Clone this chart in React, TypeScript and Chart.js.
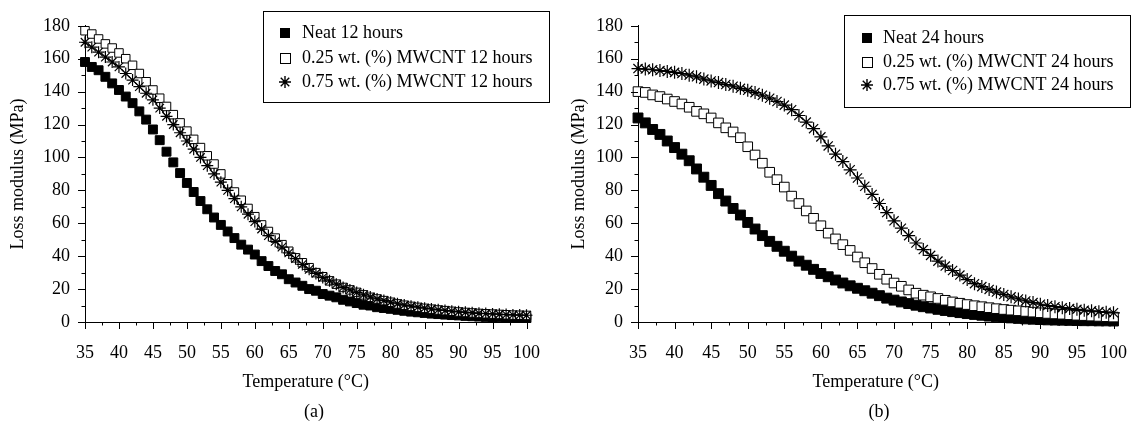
import React, { useEffect, useRef } from 'react';
import { Chart, registerables } from 'chart.js';

Chart.register(...registerables);

const FONT_FAMILY = "'Liberation Serif', 'Times New Roman', serif";

// ---------- data ----------
const TEMPS = [
  35, 36, 37, 38, 39, 40, 41, 42, 43, 44,
  45, 46, 47, 48, 49, 50, 51, 52, 53, 54,
  55, 56, 57, 58, 59, 60, 61, 62, 63, 64,
  65, 66, 67, 68, 69, 70, 71, 72, 73, 74,
  75, 76, 77, 78, 79, 80, 81, 82, 83, 84,
  85, 86, 87, 88, 89, 90, 91, 92, 93, 94,
  95, 96, 97, 98, 99, 100,
];

const NEAT_12 = [
  158, 155, 153, 149, 145, 141, 137, 133, 128, 123,
  117, 110.5, 103.5, 97, 90.5, 84.5, 79, 73.5, 68.5, 63.5,
  59, 55, 51, 47, 44, 41, 37, 34, 31, 29,
  26, 24, 22, 20, 19, 17, 16, 15, 13.5, 12.5,
  11.5, 10.5, 10, 9, 8.5, 8, 7.4, 6.8, 6.3, 5.9,
  5.5, 5.1, 4.8, 4.5, 4.2, 4.0, 3.7, 3.5, 3.3, 3.1,
  3.0, 2.8, 2.7, 2.6, 2.5, 2.4,
];

const MW025_12 = [
  177, 175, 172, 169, 166.5, 163.5, 160, 156, 151, 146,
  141, 136, 131, 126, 121, 116, 111, 106, 101, 96,
  90, 84, 79, 74, 69, 64, 59, 55, 51, 47,
  43, 39, 36, 33, 30, 27.5, 25, 23, 21, 19.5,
  18, 16.5, 15, 14, 13, 12, 11, 10.2, 9.5, 8.9,
  8.3, 7.8, 7.3, 6.9, 6.5, 6.1, 5.8, 5.5, 5.2, 5.0,
  4.8, 4.6, 4.4, 4.2, 4.1, 4.0,
];

const MW075_12 = [
  170, 167, 164, 161, 158, 155, 151, 147, 143, 139,
  135, 130, 125, 120, 115, 110, 105, 100, 95, 90,
  85, 80, 75, 70, 65.5, 61, 56.5, 52.5, 49, 45.5,
  42, 38.5, 35, 32, 29.5, 27, 25, 23, 21, 19.5,
  18, 16.5, 15.2, 14, 13, 12, 11.1, 10.3, 9.6, 9.0,
  8.4, 7.9, 7.4, 7.0, 6.6, 6.2, 5.9, 5.6, 5.3, 5.1,
  4.9, 4.7, 4.5, 4.3, 4.2, 4.1,
];

const NEAT_24 = [
  124, 121, 117, 114, 110, 106, 102, 98, 93, 88,
  83, 78, 73.5, 69, 65, 60.5, 56.5, 52.5, 49, 46,
  43, 40, 37, 34.5, 32, 29.5, 27.5, 25.5, 23.7, 22,
  20.5, 19, 17.5, 16, 14.5, 13.3, 12.2, 11.2, 10.2, 9.3,
  8.5, 7.7, 7.0, 6.3, 5.7, 5.1, 4.6, 4.1, 3.6, 3.2,
  2.8, 2.5, 2.2, 1.9, 1.7, 1.5, 1.3, 1.2, 1.1, 1.0,
  0.9, 0.8, 0.8, 0.7, 0.7, 0.6,
];

const MW025_24 = [
  140, 139.5, 138, 137, 135.5, 134, 132.5, 130.5, 128, 126.5,
  124, 121, 118, 115.5, 112, 106.5, 101.5, 96.5, 91, 86.5,
  82, 76.5, 72, 67.5, 63, 58.5, 54, 50.5, 47, 43.5,
  39.5, 36, 32.5, 29, 26, 23.7, 21.7, 19.5, 17.5, 16.3,
  15.3, 14.3, 13.2, 12.2, 11.4, 10.6, 9.9, 9.3, 8.7, 8.1,
  7.6, 7.2, 6.8, 6.4, 6.0, 5.6, 5.2, 4.9, 4.7, 4.4,
  4.1, 3.9, 3.6, 3.4, 3.2, 3.0,
];

const MW075_24 = [
  154, 153.7, 153.3, 152.8, 152.3, 151.7, 151, 150, 149, 147.6,
  146.5, 145.5, 144.3, 143.3, 142, 140.8, 139.4, 137.8, 136, 134,
  131.8, 129, 125.5, 121.5, 117.5, 112.5, 107, 102, 97.5, 92.5,
  87.5, 82.5, 77.5, 72, 66.5, 61.5, 57, 52.5, 48, 44,
  40.5, 37, 34, 31.3, 28.5, 25.8, 23.3, 21.5, 19.8, 18.2,
  16.7, 15.3, 14, 12.8, 11.8, 10.8, 10, 9.3, 8.7, 8.2,
  7.7, 7.2, 6.8, 6.3, 5.9, 5.6,
];

const X_TICKS = [35, 40, 45, 50, 55, 60, 65, 70, 75, 80, 85, 90, 95, 100];
const Y_TICKS = [0, 20, 40, 60, 80, 100, 120, 140, 160, 180];

const LABELS_12 = ['Neat 12 hours', '0.25 wt. (%) MWCNT 12 hours', '0.75 wt. (%) MWCNT 12 hours'];
const LABELS_24 = ['Neat 24 hours', '0.25 wt. (%) MWCNT 24 hours', '0.75 wt. (%) MWCNT 24 hours'];

type MarkStyle = 'filled' | 'open' | 'star';
const STYLES: MarkStyle[] = ['filled', 'open', 'star'];

// ---------- plugins ----------
function makeTickPlugin() {
  return {
    id: 'manualTicks',
    afterDraw(chart: any) {
      const { ctx } = chart;
      const xs = chart.scales.x;
      const ys = chart.scales.y;
      ctx.save();
      ctx.strokeStyle = '#000';
      ctx.lineWidth = 1;
      ctx.beginPath();
      const xVals: number[] = [];
      X_TICKS.forEach((v, i) => {
        xVals.push(v);
        if (i < X_TICKS.length - 1) xVals.push((v + X_TICKS[i + 1]) / 2);
      });
      xVals.forEach((v) => {
        const major = X_TICKS.includes(v);
        const px = Math.round(xs.getPixelForValue(v)) + 0.5;
        const len = major ? 7 : 3.5;
        ctx.moveTo(px, xs.top);
        ctx.lineTo(px, xs.top + len);
      });
      const yVals: number[] = [];
      Y_TICKS.forEach((v, i) => {
        yVals.push(v);
        if (i < Y_TICKS.length - 1) yVals.push((v + Y_TICKS[i + 1]) / 2);
      });
      yVals.forEach((v) => {
        const major = Y_TICKS.includes(v);
        const py = Math.round(ys.getPixelForValue(v)) + 0.5;
        const len = major ? 7 : 3.5;
        ctx.moveTo(ys.right - len, py);
        ctx.lineTo(ys.right, py);
      });
      ctx.stroke();
      ctx.restore();
    },
  };
}

interface LegendCfg {
  x: number; y: number; w: number; h: number;
  markerX: number; textX: number; rows: number[];
  labels: string[];
}

function makeLegendPlugin(cfg: LegendCfg) {
  return {
    id: 'boxLegend',
    afterDraw(chart: any) {
      const { ctx } = chart;
      ctx.save();
      ctx.fillStyle = '#fff';
      ctx.fillRect(cfg.x, cfg.y, cfg.w, cfg.h);
      ctx.strokeStyle = '#000';
      ctx.lineWidth = 1;
      ctx.strokeRect(cfg.x + 0.5, cfg.y + 0.5, cfg.w, cfg.h);
      ctx.font = `18px ${FONT_FAMILY}`;
      ctx.textBaseline = 'middle';
      ctx.textAlign = 'left';
      cfg.labels.forEach((label, i) => {
        const cy = cfg.rows[i];
        const cx = cfg.markerX;
        const s = 10;
        const st = STYLES[i];
        ctx.fillStyle = '#000';
        if (st === 'filled') {
          ctx.fillRect(cx - s / 2, cy - s / 2, s, s);
        } else if (st === 'open') {
          ctx.strokeRect(Math.round(cx - s / 2) + 0.5, Math.round(cy - s / 2) + 0.5, s, s);
        } else {
          const r = 6;
          ctx.beginPath();
          ctx.moveTo(cx, cy - r); ctx.lineTo(cx, cy + r);
          ctx.moveTo(cx - r, cy); ctx.lineTo(cx + r, cy);
          const d = r * Math.SQRT1_2;
          ctx.moveTo(cx - d, cy - d); ctx.lineTo(cx + d, cy + d);
          ctx.moveTo(cx - d, cy + d); ctx.lineTo(cx + d, cy - d);
          ctx.lineWidth = 1.4;
          ctx.stroke();
          ctx.lineWidth = 1;
        }
        ctx.fillStyle = '#000';
        ctx.fillText(label, cfg.textX, cy);
      });
      ctx.restore();
    },
  };
}

// ---------- chart panel ----------
interface PanelProps {
  left: number;
  width: number;
  axisWidth: number;
  padRight: number;
  yTitlePad: number;
  series: number[][];
  labels: string[];
  radii: number[];
  legend: LegendCfg;
}

function Panel(props: PanelProps) {
  const ref = useRef<HTMLCanvasElement | null>(null);
  useEffect(() => {
    if (!ref.current) return;
    const datasets = props.series.map((vals, i) => {
      const st = STYLES[i];
      return {
        label: props.labels[i],
        data: TEMPS.map((t, k) => ({ x: t, y: vals[k] })),
        showLine: st === 'star',
        borderColor: '#000',
        borderWidth: 1,
        pointStyle: st === 'star' ? 'star' : 'rect',
        pointRadius: props.radii[i],
        pointBackgroundColor: st === 'filled' ? '#000' : '#fff',
        pointBorderColor: '#000',
        pointBorderWidth: st === 'star' ? 1.2 : 1,
        order: 2 - i,
        clip: false as any,
        tension: 0,
      };
    });
    const tickFont = { family: FONT_FAMILY, size: 18 };
    const chart = new Chart(ref.current, {
      type: 'line',
      data: { datasets },
      options: {
        responsive: false,
        animation: false,
        devicePixelRatio: 1,
        layout: { padding: { left: 0, top: 16, right: props.padRight, bottom: 30 } },
        plugins: { legend: { display: false }, tooltip: { enabled: false } },
        scales: {
          x: {
            type: 'linear',
            min: 35,
            max: 100,
            afterBuildTicks: (scale: any) => {
              scale.ticks = X_TICKS.map((v) => ({ value: v }));
            },
            afterFit: (scale: any) => {
              scale.height = 75;
            },
            grid: { display: false, drawTicks: false, tickLength: 0 },
            border: { display: true, color: '#000', width: 1 },
            ticks: { color: '#000', font: tickFont, padding: 20, maxRotation: 0, autoSkip: false },
            title: {
              display: true,
              text: 'Temperature (°C)',
              color: '#000',
              font: { family: FONT_FAMILY, size: 18 },
              padding: { top: 0, bottom: 4 },
            },
          },
          y: {
            type: 'linear',
            min: 0,
            max: 180,
            afterBuildTicks: (scale: any) => {
              scale.ticks = Y_TICKS.map((v) => ({ value: v }));
            },
            afterFit: (scale: any) => {
              scale.width = props.axisWidth;
            },
            grid: { display: false, drawTicks: false, tickLength: 0 },
            border: { display: true, color: '#000', width: 1 },
            ticks: { color: '#000', font: tickFont, padding: 15, autoSkip: false },
            title: {
              display: true,
              text: 'Loss modulus (MPa)',
              color: '#000',
              font: { family: FONT_FAMILY, size: 18 },
              padding: { top: props.yTitlePad, bottom: 0 },
            },
          },
        },
      },
      plugins: [makeTickPlugin(), makeLegendPlugin(props.legend)],
    } as any);
    return () => chart.destroy();
  }, []);
  return (
    <div style={{ position: 'absolute', left: props.left, top: 0, width: props.width, height: 427 }}>
      <canvas ref={ref} width={props.width} height={427} style={{ width: props.width, height: 427, display: 'block' }} />
    </div>
  );
}

export default function App() {
  const capStyle: React.CSSProperties = {
    position: 'absolute',
    top: 401,
    textAlign: 'center',
    fontFamily: FONT_FAMILY,
    fontSize: 18,
    lineHeight: '21px',
    color: '#000',
  };
  return (
    <div style={{ position: 'absolute', left: 0, top: 0, width: 1147, height: 427, background: '#fff', overflow: 'hidden' }}>
      <Panel
        left={0}
        width={560}
        axisWidth={85}
        padRight={17}
        yTitlePad={7}
        series={[NEAT_12, MW025_12, MW075_12]}
        labels={LABELS_12}
        radii={[6.3, 6, 6]}
        legend={{ x: 263, y: 11, w: 286, h: 91, markerX: 285, textX: 302, rows: [33, 58, 82], labels: LABELS_12 }}
      />
      <Panel
        left={560}
        width={587}
        axisWidth={78}
        padRight={27}
        yTitlePad={8}
        series={[NEAT_24, MW025_24, MW075_24]}
        labels={LABELS_24}
        radii={[7, 6.8, 6.5]}
        legend={{ x: 284, y: 15, w: 286, h: 92, markerX: 307, textX: 323, rows: [38, 62, 85], labels: LABELS_24 }}
      />
      <div style={{ ...capStyle, left: 85, width: 458 }}>(a)</div>
      <div style={{ ...capStyle, left: 638, width: 482 }}>(b)</div>
    </div>
  );
}
